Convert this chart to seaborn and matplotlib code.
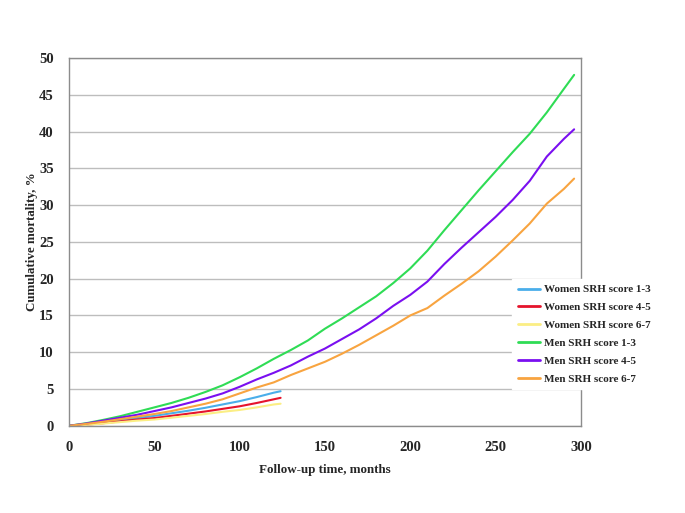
import pandas as pd
import seaborn as sns
import matplotlib.pyplot as plt

months_men = [0, 10, 20, 30, 40, 50, 60, 70, 80, 90, 100, 110, 120, 130, 140, 150,
              160, 170, 180, 190, 200, 210, 220, 230, 240, 250, 260, 270, 280, 290, 296]
months_women = [0, 10, 20, 30, 40, 50, 60, 70, 80, 90, 100, 110, 120, 124]

women_1_3 = [0, 0.2, 0.45, 0.75, 1.05, 1.35, 1.7, 2.05, 2.45, 2.9, 3.35, 3.9, 4.5, 4.7]
women_4_5 = [0, 0.15, 0.35, 0.6, 0.85, 1.05, 1.35, 1.65, 1.95, 2.3, 2.65, 3.1, 3.6, 3.8]
women_6_7 = [0, 0.12, 0.3, 0.5, 0.7, 0.85, 1.1, 1.35, 1.6, 1.9, 2.15, 2.5, 2.9, 3.0]

men_1_3 = [0, 0.35, 0.8, 1.3, 1.9, 2.5, 3.1, 3.8, 4.6, 5.5, 6.6, 7.8, 9.1, 10.3, 11.6, 13.2,
           14.6, 16.1, 17.6, 19.4, 21.4, 23.8, 26.6, 29.3, 32.0, 34.6, 37.2, 39.7, 42.6, 45.8, 47.7]
men_4_5 = [0, 0.3, 0.7, 1.1, 1.5, 2.0, 2.5, 3.1, 3.7, 4.4, 5.3, 6.3, 7.2, 8.2, 9.4, 10.5,
           11.8, 13.1, 14.6, 16.3, 17.8, 19.6, 22.0, 24.2, 26.3, 28.4, 30.7, 33.3, 36.6, 39.0, 40.3]
men_6_7 = [0, 0.25, 0.55, 0.9, 1.25, 1.6, 2.0, 2.5, 3.0, 3.6, 4.4, 5.2, 5.9, 6.9, 7.8, 8.7,
           9.8, 11.0, 12.3, 13.6, 15.0, 16.0, 17.7, 19.3, 21.0, 23.0, 25.2, 27.5, 30.2, 32.2, 33.6]

series = {
    "Women SRH score 1-3": (months_women, women_1_3),
    "Women SRH score 4-5": (months_women, women_4_5),
    "Women SRH score 6-7": (months_women, women_6_7),
    "Men SRH score 1-3": (months_men, men_1_3),
    "Men SRH score 4-5": (months_men, men_4_5),
    "Men SRH score 6-7": (months_men, men_6_7),
}
colors = {
    "Women SRH score 1-3": "#4aaeea",
    "Women SRH score 4-5": "#e5142c",
    "Women SRH score 6-7": "#fbee84",
    "Men SRH score 1-3": "#2fdc55",
    "Men SRH score 4-5": "#7a0ff0",
    "Men SRH score 6-7": "#f8a440",
}

rows = []
for name, (xs, ys) in series.items():
    for x, y in zip(xs, ys):
        rows.append({"month": x, "mortality": y, "group": name})
df = pd.DataFrame(rows)

sns.set_style("white")
plt.rcParams['font.family'] = ['Liberation Serif', 'DejaVu Serif']
plt.rcParams['font.weight'] = 'bold'

fig = plt.figure(figsize=(6.85, 5.13), dpi=100)
ax = fig.add_axes([0.1007, 0.170, 0.7474, 0.717])

sns.lineplot(data=df, x="month", y="mortality", hue="group", palette=colors,
             linewidth=1.5, ax=ax, legend=False)

ax.set_xlim(0, 300)
ax.set_ylim(0, 50)
ax.set_xticks(range(0, 301, 50))
ax.set_yticks(range(0, 51, 5))
ax.yaxis.grid(True, color="#bdbdbd", linewidth=1)
ax.set_axisbelow(True)
for s in ax.spines.values():
    s.set_color("#8c8c8c")
    s.set_linewidth(1)
ax.tick_params(axis="both", direction="out", length=4, width=1, color="#8c8c8c",
               labelsize=10.5, pad=7)
for lab in ax.get_xticklabels() + ax.get_yticklabels():
    lab.set_fontweight("bold")
ax.set_xlabel("Follow-up time, months", fontsize=9.4, fontweight="bold", labelpad=7.5)
ax.set_ylabel("Cumulative mortality, %", fontsize=9.4, fontweight="bold", labelpad=1)

handles = [plt.Line2D([], [], color=colors[n], linewidth=2) for n in series]
leg = fig.legend(handles, list(series.keys()), loc="upper left",
                 bbox_to_anchor=(0.7475, 0.456), borderaxespad=0,
                 frameon=True, fancybox=False,
                 edgecolor="white", facecolor="white", framealpha=1,
                 prop={"size": 8, "weight": "bold"}, handlelength=2.0,
                 handletextpad=0.35, labelspacing=0.73, borderpad=0.5)

fig.savefig("out.png", dpi=100)
